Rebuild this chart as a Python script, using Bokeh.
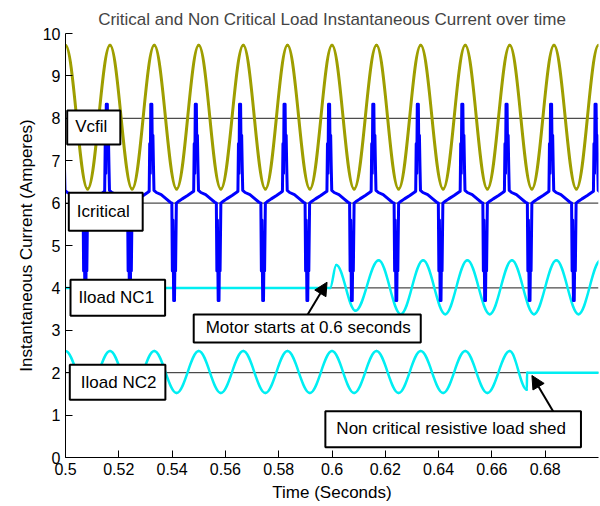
import numpy as np
from bokeh.plotting import figure
from bokeh.models import (Range1d, FixedTicker, Label, Arrow, NormalHead,
                          ColumnDataSource)
from bokeh.embed import file_html
from bokeh.resources import INLINE

# ---------------- data ----------------
# Vcfil: times of successive peaks / troughs and their values
vcfil_t = [0.5, 0.5083, 0.5167, 0.525, 0.5333, 0.5417, 0.55, 0.5583, 0.5667,
           0.575, 0.5833, 0.5917, 0.6, 0.6083, 0.6167, 0.625, 0.6333, 0.6417,
           0.65, 0.6583, 0.6667, 0.675, 0.6833, 0.6917, 0.7]
vcfil_v = [9.72, 6.33, 9.72, 6.33, 9.72, 6.33, 9.72, 6.33, 9.72, 6.33, 9.72,
           6.33, 9.72, 6.33, 9.72, 6.33, 9.72, 6.33, 9.72, 6.33, 9.72, 6.33,
           9.72, 6.33, 9.72]

# Iload NC1: flat until the motor starts, then oscillates
nc1_t = [0.5, 0.5993, 0.6016, 0.6088, 0.6175, 0.6258, 0.6342, 0.6425, 0.6508,
         0.6592, 0.6675, 0.6758, 0.6842, 0.6925, 0.7008]
nc1_v = [4.0, 4.0, 4.54, 3.46, 4.65, 3.38, 4.65, 3.38, 4.65, 3.38, 4.65, 3.38,
         4.65, 3.38, 4.65]

# Iload NC2: oscillates until the resistive load is shed, then flat
nc2_t = [0.5, 0.5083, 0.5167, 0.525, 0.5333, 0.5417, 0.55, 0.5583, 0.5667,
         0.575, 0.5833, 0.5917, 0.6, 0.6083, 0.6167, 0.625, 0.6333, 0.6417,
         0.65, 0.6583, 0.6667, 0.6731, 0.6732, 0.7]
nc2_v = [2.51, 1.52, 2.51, 1.52, 2.51, 1.52, 2.51, 1.52, 2.51, 1.52, 2.51,
         1.52, 2.51, 1.52, 2.51, 1.52, 2.51, 1.52, 2.51, 1.52, 2.51, 1.6,
         2.0, 2.0]

# Icritical: times of upward and downward current spikes
icrit_up_t = [0.4989, 0.5156, 0.5323, 0.549, 0.5656, 0.5823, 0.599, 0.6156,
              0.6323, 0.649, 0.6656, 0.6823, 0.699]
icrit_down_t = [0.5075, 0.5242, 0.5408, 0.5575, 0.5742, 0.5908, 0.6075,
                0.6242, 0.6408, 0.6575, 0.6742, 0.6908]
# shape of one upward spike (offset from spike time, value)
up_dt = [-0.0009, -0.0007, -0.0005, -0.0003, 0.0001, 0.0003, 0.0005, 0.0007, 0.0009]
up_v = [6.28, 7.4, 6.7, 8.33, 8.33, 7.1, 7.6, 6.9, 6.3]
# shape of one downward spike
down_dt = [-0.0009, -0.0007, -0.0005, -0.0002, 0.0001, 0.0003, 0.0005, 0.0008]
down_v = [6.0, 4.4, 5.6, 3.7, 3.7, 4.9, 4.4, 6.0]
# baseline after each upward / downward spike
base_up_dt = [0.0018, 0.0036, 0.0055, 0.007]
base_up_v = [6.25, 6.2, 6.1, 6.02]
base_down_dt = [0.0014, 0.003, 0.005, 0.0066]
base_down_v = [6.03, 6.1, 6.18, 6.25]

ref_levels = [8, 6, 4, 2]

x_ticks = [0.5, 0.52, 0.54, 0.56, 0.58, 0.6, 0.62, 0.64, 0.66, 0.68]
x_tick_labels = ["0.5", "0.52", "0.54", "0.56", "0.58", "0.6", "0.62",
                 "0.64", "0.66", "0.68"]
y_ticks = [0, 1, 2, 3, 4, 5, 6, 7, 8, 9, 10]

title = "Critical and Non Critical Load Instantaneous Current over time"
x_label = "Time (Seconds)"
y_label = "Instantaneous Current (Amperes)"
series_names = ["Vcfil", "Icritical", "Iload NC1", "Iload NC2"]
note_motor = "Motor starts at 0.6 seconds"
note_shed = "Non critical resistive load shed"

# ---------------- figure ----------------
FONT = "Liberation Sans"
p = figure(width=600, height=506, output_backend="svg", toolbar_location=None,
           x_range=Range1d(0.5, 0.7), y_range=Range1d(0, 10),
           min_border_left=65, min_border_right=2, min_border_top=33,
           min_border_bottom=49)
p.outline_line_color = None
p.xgrid.visible = False
p.ygrid.visible = False
p.background_fill_color = "white"
p.border_fill_color = "white"

p.title.text = title
p.title.text_font = FONT
p.title.text_font_size = "17px"
p.title.text_font_style = "normal"
p.title.align = "center"
p.title.vertical_align = "bottom"
p.title.standoff = 10

for ax in (p.xaxis[0], p.yaxis[0]):
    ax.axis_line_color = "black"
    ax.major_tick_line_color = "black"
    ax.major_tick_in = 7
    ax.major_tick_out = 0
    ax.minor_tick_in = 0
    ax.minor_tick_out = 0
    ax.minor_tick_line_color = None
    ax.major_label_text_font = FONT
    ax.major_label_text_font_size = "16px"
    ax.major_label_text_color = "black"
    ax.axis_label_text_font = FONT
    ax.axis_label_text_font_size = "17px"
    ax.axis_label_text_font_style = "normal"
    ax.axis_label_text_color = "black"

p.xaxis.ticker = FixedTicker(ticks=x_ticks)
p.xaxis.major_label_overrides = {t: s for t, s in zip(x_ticks, x_tick_labels)}
p.xaxis.major_label_standoff = 5
p.xaxis.axis_label = x_label
p.xaxis.axis_label_standoff = 5
p.yaxis.ticker = FixedTicker(ticks=y_ticks)
p.yaxis.major_label_standoff = 5
p.yaxis.axis_label = y_label
p.yaxis.axis_label_standoff = 4

# reference lines
p.segment(x0=[0.5] * len(ref_levels), x1=[0.7] * len(ref_levels),
          y0=ref_levels, y1=ref_levels, line_color="#202020", line_width=1)

# smooth waves through the read peaks / troughs
K = 0.3634


def bez_source(t, v):
    t = np.asarray(t, dtype=float)
    v = np.asarray(v, dtype=float)
    x0, x1, y0, y1 = t[:-1], t[1:], v[:-1], v[1:]
    h = x1 - x0
    return ColumnDataSource(dict(x0=x0, y0=y0, x1=x1, y1=y1,
                                 cx0=x0 + K * h, cy0=y0,
                                 cx1=x1 - K * h, cy1=y1))


def wave(t, v, color, width):
    p.bezier(x0="x0", y0="y0", x1="x1", y1="y1", cx0="cx0", cy0="cy0",
             cx1="cx1", cy1="cy1", source=bez_source(t, v),
             line_color=color, line_width=width, line_cap="round")


wave(vcfil_t, vcfil_v, "#9e9e00", 3)
wave(nc1_t, nc1_v, "#00eef2", 2.5)
wave(nc2_t, nc2_v, "#00eef2", 2.5)

# Icritical polyline from the spike times and shapes
pts = []
for u in icrit_up_t:
    pts += [(u + d, v) for d, v in zip(up_dt, up_v)]
    pts += [(u + d, v) for d, v in zip(base_up_dt, base_up_v)]
for w in icrit_down_t:
    pts += [(w + d, v) for d, v in zip(down_dt, down_v)]
    pts += [(w + d, v) for d, v in zip(base_down_dt, base_down_v)]
pts.sort()
p.line([a for a, _ in pts], [b for _, b in pts], line_color="#0000ff",
       line_width=3, line_join="round")


# ---------------- annotations ----------------
def box(text, x, y, pad, size="17px"):
    # (x, y) is the top-left corner of the padded box
    lab = Label(x=x, y=y, text=text, anchor="top_left", text_align="left",
                text_baseline="top", padding=pad,
                background_fill_color="white", background_fill_alpha=1.0,
                border_line_color="black", border_line_width=2,
                text_font=FONT, text_font_size=size, text_color="black")
    p.add_layout(lab)


box(series_names[0], 0.50064, 8.184, dict(left=8, right=13, top=7, bottom=8))
box(series_names[1], 0.50124, 6.243, dict(left=8, right=13, top=9, bottom=10))
box(series_names[2], 0.50188, 4.191, dict(left=8, right=11, top=8, bottom=9))
box(series_names[3], 0.50161, 2.186, dict(left=11, right=9, top=8, bottom=8))
box(note_motor, 0.54811, 3.373, dict(left=12, right=10, top=4, bottom=5))
box(note_shed, 0.59751, 1.092, dict(left=11, right=15, top=8, bottom=9))

for xs, ys, xe, ye in [(0.59087, 3.373, 0.59814, 4.134),
                       (0.68301, 1.085, 0.67502, 1.934)]:
    p.add_layout(Arrow(x_start=xs, y_start=ys, x_end=xe, y_end=ye,
                       line_color="black", line_width=2,
                       end=NormalHead(size=13, fill_color="black",
                                      line_color="black")))

open("out.html", "w").write(file_html(p, INLINE))
